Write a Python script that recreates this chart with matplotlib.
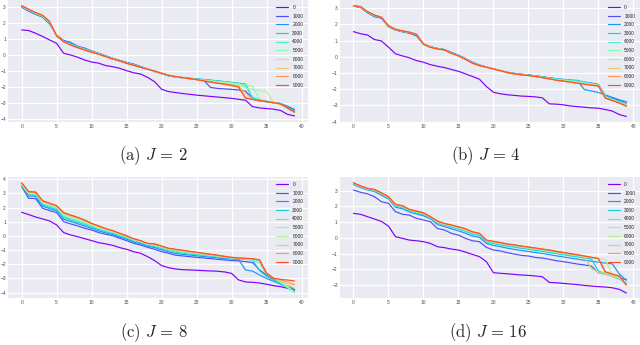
import numpy as np
import matplotlib
matplotlib.use("Agg")
import matplotlib.pyplot as plt
from matplotlib.ticker import MultipleLocator

plt.style.use("seaborn-v0_8-darkgrid")
plt.rcParams["mathtext.fontset"] = "cm"

steps = np.arange(40)
labels = ["0", "1000", "2000", "3000", "4000", "5000", "6000", "7000", "8000", "9000"]
captions = [r"$\mathrm{(a)}\ J\,=\,2$", r"$\mathrm{(b)}\ J\,=\,4$",
            r"$\mathrm{(c)}\ J\,=\,8$", r"$\mathrm{(d)}\ J\,=\,16$"]

# ---- J = 2 ----
a0 = [1.58,1.54,1.37,1.17,0.95,0.74,0.12,0.01,-0.13,-0.30,-0.43,-0.50,-0.65,-0.72,-0.82,-0.97,-1.10,-1.18,-1.39,-1.66,-2.13,-2.28,-2.34,-2.40,-2.45,-2.50,-2.54,-2.58,-2.62,-2.66,-2.70,-2.76,-2.82,-3.22,-3.30,-3.34,-3.38,-3.46,-3.70,-3.80]
a1 = [3.00,2.75,2.55,2.38,1.95,1.25,0.92,0.80,0.56,0.44,0.26,0.12,-0.04,-0.19,-0.33,-0.45,-0.56,-0.71,-0.87,-1.01,-1.15,-1.29,-1.37,-1.42,-1.47,-1.51,-1.56,-2.02,-2.08,-2.11,-2.14,-2.18,-2.25,-2.75,-2.86,-2.92,-2.98,-3.03,-3.22,-3.42]
a2 = [3.02,2.78,2.58,2.40,1.98,1.24,0.90,0.76,0.54,0.42,0.24,0.10,-0.05,-0.20,-0.34,-0.46,-0.58,-0.72,-0.88,-1.02,-1.16,-1.29,-1.36,-1.41,-1.45,-1.49,-1.53,-1.57,-1.62,-1.67,-1.72,-1.77,-1.84,-2.72,-2.84,-2.90,-2.96,-3.02,-3.20,-3.40]
a3 = [3.05,2.80,2.60,2.42,2.00,1.22,0.88,0.72,0.52,0.40,0.22,0.09,-0.06,-0.21,-0.35,-0.48,-0.60,-0.74,-0.88,-1.02,-1.16,-1.28,-1.35,-1.40,-1.44,-1.48,-1.52,-1.56,-1.60,-1.65,-1.70,-1.75,-1.80,-2.68,-2.82,-2.90,-2.97,-3.04,-3.28,-3.50]
a4 = [3.06,2.82,2.62,2.44,2.04,1.22,0.84,0.68,0.50,0.37,0.21,0.08,-0.07,-0.22,-0.36,-0.49,-0.61,-0.75,-0.88,-1.01,-1.15,-1.28,-1.35,-1.41,-1.46,-1.51,-1.56,-1.60,-1.64,-1.68,-1.73,-1.78,-1.95,-2.60,-2.80,-2.88,-2.96,-3.05,-3.35,-3.62]
a5 = [3.08,2.84,2.63,2.46,2.06,1.21,0.83,0.66,0.49,0.36,0.20,0.07,-0.08,-0.23,-0.36,-0.50,-0.62,-0.75,-0.88,-1.00,-1.14,-1.27,-1.35,-1.41,-1.47,-1.52,-1.57,-1.61,-1.66,-1.70,-1.75,-1.80,-1.86,-1.95,-2.75,-2.88,-2.96,-3.04,-3.34,-3.62]
a6 = [3.08,2.85,2.64,2.47,2.07,1.21,0.84,0.65,0.48,0.35,0.19,0.07,-0.08,-0.23,-0.36,-0.50,-0.62,-0.75,-0.88,-1.00,-1.14,-1.27,-1.35,-1.41,-1.47,-1.52,-1.58,-1.63,-1.68,-1.73,-1.79,-1.85,-2.05,-2.15,-2.20,-2.27,-2.95,-3.04,-3.32,-3.60]
a7 = [3.09,2.86,2.65,2.48,2.08,1.20,0.85,0.64,0.47,0.34,0.18,0.06,-0.09,-0.24,-0.36,-0.51,-0.63,-0.76,-0.88,-0.99,-1.13,-1.26,-1.34,-1.41,-1.48,-1.54,-1.60,-1.66,-1.72,-1.78,-1.85,-1.92,-2.40,-2.75,-2.84,-2.91,-2.98,-3.06,-3.32,-3.58]
a8 = [3.10,2.86,2.66,2.49,2.09,1.20,0.85,0.64,0.47,0.33,0.18,0.06,-0.09,-0.24,-0.36,-0.51,-0.63,-0.76,-0.88,-0.99,-1.13,-1.26,-1.34,-1.40,-1.47,-1.53,-1.60,-1.67,-1.74,-1.80,-1.87,-1.96,-2.65,-2.76,-2.83,-2.90,-2.97,-3.05,-3.30,-3.56]
a9 = [3.10,2.87,2.66,2.49,2.10,1.20,0.85,0.64,0.47,0.33,0.18,0.06,-0.09,-0.24,-0.36,-0.51,-0.63,-0.76,-0.88,-0.99,-1.13,-1.26,-1.34,-1.40,-1.47,-1.53,-1.61,-1.69,-1.76,-1.82,-1.90,-2.00,-2.70,-2.77,-2.83,-2.90,-2.97,-3.05,-3.30,-3.55]

# ---- J = 4 ----
b0 = [1.56,1.43,1.35,1.07,0.98,0.60,0.19,0.06,-0.06,-0.23,-0.33,-0.48,-0.58,-0.66,-0.78,-0.89,-1.05,-1.21,-1.38,-1.83,-2.18,-2.28,-2.34,-2.38,-2.42,-2.44,-2.47,-2.53,-2.90,-2.92,-2.96,-3.03,-3.07,-3.11,-3.15,-3.17,-3.25,-3.35,-3.56,-3.68]
b1 = [3.13,3.05,2.72,2.48,2.38,1.86,1.66,1.55,1.46,1.30,0.78,0.62,0.52,0.45,0.27,0.10,-0.10,-0.33,-0.50,-0.62,-0.76,-0.86,-0.96,-1.03,-1.08,-1.13,-1.18,-1.24,-1.30,-1.36,-1.41,-1.45,-1.50,-1.56,-1.62,-1.70,-2.40,-2.55,-2.68,-2.80]
b2 = [3.14,3.06,2.74,2.50,2.40,1.88,1.67,1.56,1.48,1.33,0.80,0.63,0.52,0.45,0.26,0.09,-0.11,-0.35,-0.52,-0.63,-0.75,-0.85,-0.95,-1.02,-1.07,-1.12,-1.17,-1.23,-1.29,-1.35,-1.40,-1.44,-1.48,-2.02,-2.10,-2.20,-2.35,-2.50,-2.65,-2.78]
b3 = [3.15,3.08,2.76,2.53,2.42,1.90,1.68,1.58,1.50,1.36,0.79,0.61,0.51,0.44,0.24,0.08,-0.12,-0.36,-0.52,-0.63,-0.75,-0.85,-0.96,-1.03,-1.08,-1.13,-1.18,-1.24,-1.30,-1.35,-1.39,-1.42,-1.45,-1.55,-1.65,-1.72,-2.40,-2.60,-2.75,-2.90]
b4 = [3.15,3.09,2.77,2.55,2.43,1.91,1.69,1.59,1.51,1.38,0.78,0.60,0.50,0.43,0.23,0.07,-0.13,-0.37,-0.53,-0.63,-0.75,-0.86,-0.97,-1.04,-1.10,-1.14,-1.19,-1.25,-1.31,-1.37,-1.42,-1.46,-1.50,-1.57,-1.66,-1.74,-2.45,-2.62,-2.78,-2.95]
b5 = [3.16,3.09,2.78,2.56,2.43,1.91,1.69,1.59,1.51,1.38,0.78,0.60,0.50,0.43,0.23,0.07,-0.14,-0.38,-0.53,-0.64,-0.74,-0.86,-0.97,-1.05,-1.11,-1.15,-1.20,-1.27,-1.34,-1.40,-1.45,-1.50,-1.55,-1.62,-1.68,-1.76,-2.50,-2.68,-2.84,-3.00]
b6 = [3.16,3.10,2.78,2.57,2.44,1.92,1.70,1.60,1.52,1.39,0.78,0.59,0.49,0.43,0.22,0.06,-0.14,-0.38,-0.54,-0.64,-0.74,-0.85,-0.97,-1.05,-1.11,-1.16,-1.21,-1.28,-1.35,-1.42,-1.47,-1.52,-1.57,-1.63,-1.70,-1.75,-2.52,-2.66,-2.82,-2.98]
b7 = [3.16,3.10,2.79,2.58,2.44,1.92,1.70,1.60,1.52,1.39,0.78,0.59,0.49,0.43,0.22,0.06,-0.15,-0.39,-0.54,-0.64,-0.74,-0.85,-0.97,-1.05,-1.11,-1.15,-1.21,-1.28,-1.36,-1.44,-1.49,-1.55,-1.61,-1.67,-1.73,-1.79,-2.53,-2.68,-2.84,-3.02]
b8 = [3.16,3.10,2.79,2.58,2.44,1.92,1.70,1.60,1.52,1.39,0.78,0.59,0.49,0.43,0.22,0.06,-0.15,-0.39,-0.54,-0.64,-0.74,-0.85,-0.97,-1.05,-1.11,-1.15,-1.21,-1.28,-1.36,-1.44,-1.50,-1.56,-1.62,-1.68,-1.74,-1.80,-2.54,-2.69,-2.85,-3.03]
b9 = [3.16,3.10,2.79,2.58,2.44,1.92,1.70,1.60,1.52,1.39,0.78,0.59,0.49,0.43,0.22,0.06,-0.15,-0.39,-0.54,-0.64,-0.74,-0.85,-0.97,-1.05,-1.11,-1.15,-1.21,-1.28,-1.36,-1.44,-1.50,-1.56,-1.62,-1.69,-1.75,-1.80,-2.55,-2.70,-2.85,-3.05]

# ---- J = 8 ----
c0 = [1.67,1.51,1.34,1.20,1.06,0.78,0.24,0.07,-0.05,-0.19,-0.33,-0.47,-0.56,-0.66,-0.82,-0.94,-1.11,-1.22,-1.46,-1.74,-2.09,-2.24,-2.33,-2.38,-2.40,-2.42,-2.45,-2.47,-2.49,-2.54,-2.64,-3.10,-3.25,-3.27,-3.32,-3.41,-3.51,-3.58,-3.69,-3.86]
c1 = [3.48,2.66,2.64,1.95,1.79,1.65,1.01,0.85,0.71,0.54,0.42,0.24,0.12,0.02,-0.16,-0.33,-0.52,-0.64,-0.80,-0.94,-1.11,-1.22,-1.36,-1.41,-1.46,-1.51,-1.55,-1.60,-1.65,-1.69,-1.74,-1.76,-1.81,-1.88,-2.40,-2.75,-3.05,-3.30,-3.55,-3.80]
c2 = [3.52,2.82,2.80,2.10,1.93,1.78,1.18,1.02,0.86,0.69,0.53,0.36,0.22,0.10,-0.07,-0.23,-0.42,-0.55,-0.72,-0.82,-0.99,-1.12,-1.24,-1.30,-1.35,-1.40,-1.45,-1.50,-1.55,-1.59,-1.63,-1.66,-2.40,-2.48,-2.75,-3.00,-3.20,-3.40,-3.60,-3.75]
c3 = [3.55,2.90,2.88,2.20,2.02,1.87,1.30,1.13,0.97,0.80,0.62,0.45,0.30,0.18,0.01,-0.15,-0.35,-0.48,-0.66,-0.74,-0.90,-1.04,-1.14,-1.21,-1.27,-1.32,-1.38,-1.43,-1.48,-1.53,-1.58,-1.62,-1.66,-1.70,-2.45,-2.85,-3.15,-3.40,-3.65,-3.90]
c4 = [3.60,2.97,2.95,2.28,2.10,1.95,1.40,1.23,1.07,0.90,0.70,0.53,0.37,0.24,0.07,-0.09,-0.30,-0.43,-0.61,-0.68,-0.84,-0.98,-1.07,-1.15,-1.21,-1.27,-1.33,-1.39,-1.44,-1.50,-1.56,-1.60,-1.64,-1.68,-1.90,-2.70,-3.00,-3.30,-3.65,-4.00]
c5 = [3.63,3.02,3.00,2.34,2.17,2.01,1.48,1.31,1.15,0.97,0.77,0.59,0.42,0.29,0.11,-0.05,-0.26,-0.39,-0.58,-0.64,-0.79,-0.94,-1.02,-1.10,-1.16,-1.23,-1.29,-1.35,-1.41,-1.48,-1.54,-1.58,-1.62,-1.65,-1.75,-2.60,-2.95,-3.25,-3.60,-3.95]
c6 = [3.66,3.06,3.03,2.39,2.22,2.06,1.54,1.37,1.21,1.03,0.81,0.63,0.46,0.32,0.14,-0.03,-0.24,-0.37,-0.56,-0.61,-0.76,-0.91,-0.99,-1.07,-1.13,-1.20,-1.27,-1.33,-1.39,-1.46,-1.53,-1.57,-1.61,-1.63,-1.72,-2.62,-2.96,-3.22,-3.55,-4.05]
c7 = [3.70,3.09,3.06,2.43,2.26,2.09,1.59,1.42,1.26,1.08,0.85,0.67,0.49,0.35,0.16,-0.01,-0.22,-0.35,-0.54,-0.59,-0.74,-0.89,-0.97,-1.04,-1.11,-1.18,-1.25,-1.31,-1.38,-1.45,-1.52,-1.56,-1.59,-1.62,-1.70,-2.63,-2.98,-3.15,-3.40,-3.70]
c8 = [3.73,3.11,3.08,2.46,2.29,2.12,1.62,1.45,1.29,1.11,0.87,0.69,0.51,0.37,0.18,0.01,-0.20,-0.34,-0.53,-0.57,-0.72,-0.88,-0.95,-1.02,-1.09,-1.16,-1.23,-1.30,-1.37,-1.44,-1.51,-1.55,-1.58,-1.61,-1.69,-2.64,-2.99,-3.10,-3.25,-3.45]
c9 = [3.76,3.13,3.10,2.49,2.31,2.14,1.65,1.48,1.32,1.13,0.89,0.71,0.52,0.38,0.19,0.02,-0.19,-0.33,-0.52,-0.56,-0.71,-0.87,-0.94,-1.01,-1.08,-1.15,-1.22,-1.29,-1.36,-1.44,-1.51,-1.55,-1.58,-1.60,-1.69,-2.64,-2.99,-3.06,-3.11,-3.18]

# ---- J = 16 ----
d0 = [1.56,1.50,1.35,1.20,1.05,0.75,0.08,-0.03,-0.14,-0.18,-0.24,-0.35,-0.56,-0.62,-0.71,-0.77,-0.90,-1.05,-1.19,-1.51,-2.21,-2.25,-2.28,-2.32,-2.36,-2.38,-2.42,-2.47,-2.83,-2.85,-2.89,-2.93,-2.97,-3.02,-3.06,-3.10,-3.12,-3.17,-3.27,-3.50]
d1 = [3.04,2.90,2.80,2.62,2.30,2.20,1.67,1.50,1.45,1.24,1.14,1.03,0.60,0.50,0.29,0.18,-0.03,-0.18,-0.24,-0.60,-0.77,-0.83,-0.94,-1.03,-1.11,-1.15,-1.24,-1.28,-1.36,-1.45,-1.51,-1.58,-1.66,-1.72,-1.79,-2.21,-2.30,-2.42,-2.57,-2.64]
d2 = [3.40,3.20,3.05,2.95,2.70,2.48,1.95,1.85,1.65,1.52,1.40,1.22,0.85,0.72,0.58,0.45,0.30,0.12,0.03,-0.35,-0.48,-0.56,-0.65,-0.73,-0.80,-0.86,-0.93,-0.99,-1.06,-1.14,-1.21,-1.28,-1.35,-1.42,-1.48,-1.54,-1.60,-1.65,-2.30,-2.70]
d3 = [3.45,3.24,3.09,3.00,2.77,2.53,2.03,1.93,1.71,1.60,1.48,1.27,0.94,0.81,0.68,0.57,0.42,0.24,0.15,-0.25,-0.36,-0.44,-0.52,-0.59,-0.66,-0.72,-0.79,-0.85,-0.92,-1.00,-1.07,-1.14,-1.21,-1.28,-1.35,-2.10,-2.28,-2.45,-2.62,-2.85]
d4 = [3.47,3.26,3.11,3.03,2.80,2.56,2.06,1.97,1.75,1.64,1.53,1.30,0.98,0.85,0.73,0.62,0.48,0.30,0.21,-0.21,-0.30,-0.38,-0.46,-0.53,-0.60,-0.66,-0.73,-0.79,-0.86,-0.94,-1.01,-1.08,-1.15,-1.22,-1.95,-2.15,-2.30,-2.45,-2.60,-2.90]
d5 = [3.48,3.27,3.12,3.04,2.82,2.58,2.08,2.00,1.77,1.66,1.55,1.32,1.01,0.87,0.76,0.65,0.51,0.33,0.24,-0.18,-0.27,-0.35,-0.43,-0.50,-0.57,-0.63,-0.70,-0.76,-0.83,-0.91,-0.98,-1.05,-1.12,-1.19,-1.26,-1.33,-2.25,-2.38,-2.52,-2.95]
d6 = [3.49,3.28,3.13,3.05,2.84,2.59,2.10,2.02,1.79,1.68,1.57,1.33,1.03,0.89,0.78,0.67,0.54,0.35,0.26,-0.16,-0.25,-0.33,-0.41,-0.48,-0.55,-0.61,-0.68,-0.74,-0.81,-0.89,-0.96,-1.03,-1.10,-1.17,-1.24,-1.31,-1.40,-2.35,-2.50,-2.95]
d7 = [3.50,3.29,3.14,3.06,2.85,2.60,2.11,2.03,1.80,1.69,1.58,1.34,1.05,0.90,0.80,0.69,0.56,0.37,0.27,-0.15,-0.23,-0.31,-0.40,-0.46,-0.53,-0.59,-0.66,-0.72,-0.79,-0.87,-0.94,-1.02,-1.09,-1.16,-1.95,-2.18,-2.30,-2.42,-2.55,-2.98]
d8 = [3.50,3.30,3.15,3.07,2.86,2.61,2.12,2.04,1.80,1.70,1.59,1.35,1.06,0.91,0.81,0.70,0.57,0.38,0.28,-0.14,-0.22,-0.30,-0.39,-0.45,-0.52,-0.58,-0.65,-0.71,-0.78,-0.86,-0.93,-1.01,-1.08,-1.15,-1.23,-1.30,-2.18,-2.32,-2.44,-2.98]
d9 = [3.51,3.30,3.15,3.08,2.87,2.62,2.13,2.05,1.81,1.71,1.60,1.35,1.07,0.92,0.82,0.71,0.58,0.39,0.29,-0.14,-0.22,-0.30,-0.39,-0.45,-0.52,-0.58,-0.64,-0.71,-0.77,-0.86,-0.92,-1.00,-1.07,-1.15,-1.24,-1.30,-2.15,-2.30,-2.42,-3.00]

panels = [
    [a0, a1, a2, a3, a4, a5, a6, a7, a8, a9],
    [b0, b1, b2, b3, b4, b5, b6, b7, b8, b9],
    [c0, c1, c2, c3, c4, c5, c6, c7, c8, c9],
    [d0, d1, d2, d3, d4, d5, d6, d7, d8, d9],
]

# axes boxes in figure fractions, y limits, caption centres (pixels)
boxes = [[0.0125, 0.6464, 0.469, 0.3536], [0.531, 0.6464, 0.469, 0.3536],
         [0.0125, 0.1362, 0.469, 0.3507], [0.531, 0.1362, 0.469, 0.3507]]
ylims = [(-4.18, 3.45), (-4.02, 3.51), (-4.38, 4.16), (-3.82, 3.87)]
cap_xy = [(153, 156), (486, 156), (154, 333), (488, 333)]

colors = plt.cm.rainbow(np.arange(10) / 10)

fig = plt.figure(figsize=(6.4, 3.45), dpi=100)
for k in range(4):
    ax = fig.add_axes(boxes[k])
    for i, series in enumerate(panels[k]):
        ax.plot(steps, series, color=colors[i], lw=0.85, label=labels[i])
    ax.set_xlim(-1.95, 40.95)
    ax.set_ylim(*ylims[k])
    ax.xaxis.set_major_locator(MultipleLocator(5))
    ax.yaxis.set_major_locator(MultipleLocator(1))
    ax.tick_params(labelsize=3.5, pad=1.5, colors="0.3")
    ax.grid(color="white", lw=0.9)
    ax.legend(loc="upper right", fontsize=3.5, frameon=False, handlelength=2.6,
              labelspacing=0.75, borderaxespad=0.6)
    fig.text(cap_xy[k][0] / 640, 1 - cap_xy[k][1] / 345, captions[k],
             ha="center", va="center", fontsize=12)

fig.savefig("out.png", dpi=100)
